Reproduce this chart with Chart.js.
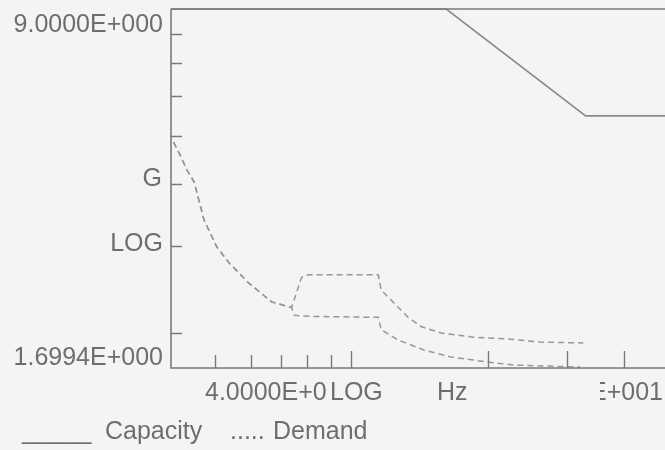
<!DOCTYPE html>
<html>
<head>
<meta charset="utf-8">
<title>Capacity / Demand</title>
<script src="https://cdn.jsdelivr.net/npm/chart.js@4.4.0/dist/chart.umd.min.js"></script>
<style>
	html,
	body {
		margin: 0;
		padding: 0;
		background: #f4f4f2;
		overflow: hidden;
	}
	#spectrumChart {
		display: block;
	}
</style>
</head>
<body>
<canvas id="spectrumChart" width="668" height="450"></canvas>
<script>
// axis ranges (log-log)
const X_MIN = 4;
const X_MAX = 50;
const Y_MIN = 1.6994;
const Y_MAX = 9;

// tick marks drawn inside the frame
const X_TICKS = [5, 6, 7, 8, 9, 10, 20, 30, 40];
const X_TICKS_LONG = [10, 20, 30, 40];
const Y_TICKS = [2, 3, 4, 5, 6, 7, 8];

// capacity envelope
const CAPACITY_HZ = [4, 16.2, 32.9, 50];
const CAPACITY_G = [9, 9, 5.48, 5.48];

// demand, upper curve
const DEMAND_A_HZ = [4.05, 4.17, 4.34, 4.5, 4.73, 5.05, 5.37, 5.94, 6.67, 7.38, 7.77, 8.05, 11.47, 11.64, 12.24, 13.35, 14.25, 15.77, 18.64, 22.13, 26.16, 32.5];
const DEMAND_A_G = [4.85, 4.61, 4.26, 4.03, 3.38, 2.98, 2.77, 2.52, 2.31, 2.25, 2.59, 2.62, 2.62, 2.44, 2.33, 2.15, 2.06, 2.0, 1.96, 1.945, 1.917, 1.909];

// demand, lower curve
const DEMAND_B_HZ = [4.05, 4.17, 4.34, 4.5, 4.73, 5.05, 5.37, 5.94, 6.67, 7.38, 7.49, 8.05, 11.47, 11.64, 12.69, 14.47, 16.59, 20.0, 22.8, 26.8, 32.0];
const DEMAND_B_G = [4.85, 4.61, 4.26, 4.03, 3.38, 2.98, 2.77, 2.52, 2.31, 2.25, 2.17, 2.16, 2.15, 2.03, 1.935, 1.848, 1.789, 1.747, 1.723, 1.715, 1.707];

const CHART_SPECTRUM = document.querySelector('#spectrumChart');
const TEXT_COLOR = '#6e6e6e';
const LINE_COLOR = '#8a8a8a';
const DASH_COLOR = '#979797';
const AXIS_COLOR = '#7a7a7a';
const BG_COLOR = '#f4f4f2';
const FONT = '"Liberation Sans", Arial, sans-serif';

function toPoints(xs, ys) {
	return xs.map((x, i) => ({ x: x, y: ys[i] }));
}

// 9 -> "9.0000E+000"
function formatSci(value) {
	const parts = value.toExponential(4).toUpperCase().split('E');
	const exp = parseInt(parts[1], 10);
	const sign = exp < 0 ? '-' : '+';
	return parts[0] + 'E' + sign + String(Math.abs(exp)).padStart(3, '0');
}

const framePlugin = {
	id: 'framePlugin',
	afterDatasetsDraw(chart) {
		const ctx = chart.ctx;
		const area = chart.chartArea;
		const xScale = chart.scales.x;
		const yScale = chart.scales.y;

		ctx.save();
		ctx.strokeStyle = AXIS_COLOR;
		ctx.lineWidth = 1.6;
		ctx.beginPath();
		ctx.moveTo(area.left, area.top);
		ctx.lineTo(area.right, area.top);
		ctx.moveTo(area.left, area.top);
		ctx.lineTo(area.left, area.bottom);
		ctx.lineTo(area.right, area.bottom);
		ctx.stroke();

		ctx.lineWidth = 1.4;
		ctx.beginPath();
		Y_TICKS.forEach(v => {
			const y = Math.round(yScale.getPixelForValue(v)) + 0.5;
			ctx.moveTo(area.left, y);
			ctx.lineTo(area.left + 11, y);
		});
		X_TICKS.forEach(v => {
			const x = Math.round(xScale.getPixelForValue(v)) + 0.5;
			const len = X_TICKS_LONG.includes(v) ? 17 : 13;
			ctx.moveTo(x, area.bottom);
			ctx.lineTo(x, area.bottom - len);
		});
		ctx.stroke();

		// y axis labels
		ctx.fillStyle = TEXT_COLOR;
		ctx.font = '25px ' + FONT;
		ctx.textBaseline = 'alphabetic';
		ctx.textAlign = 'right';
		ctx.fillText(formatSci(Y_MAX), area.left - 8, area.top + 23);
		ctx.fillText('G', area.left - 9, yScale.getPixelForValue(4) + 2);
		ctx.fillText('LOG', area.left - 8, yScale.getPixelForValue(3) + 5);
		ctx.fillText(formatSci(Y_MIN), area.left - 8, area.bottom - 3);

		// x axis labels; the "LOG Hz" title is printed over the end of the min label
		const baseX = area.bottom + 32;
		ctx.textAlign = 'left';
		ctx.fillText(formatSci(X_MIN), 205, baseX);
		const logWidth = ctx.measureText('LOG').width;
		ctx.fillStyle = BG_COLOR;
		ctx.fillRect(327, baseX - 22, logWidth + 5, 26);
		ctx.fillStyle = TEXT_COLOR;
		ctx.fillText('LOG', 330, baseX);
		ctx.fillText('Hz', 437, baseX);

		ctx.save();
		ctx.beginPath();
		ctx.rect(600, baseX - 26, 80, 32);
		ctx.clip();
		ctx.textAlign = 'right';
		ctx.fillText(formatSci(X_MAX), 663, baseX);
		ctx.restore();

		// legend
		ctx.font = '25px ' + FONT;
		ctx.textAlign = 'left';
		ctx.fillText('_____', 22, 439);
		ctx.fillText('Capacity', 105, 439);
		ctx.fillText('.....', 230, 439);
		ctx.fillText('Demand', 273, 439);
		ctx.restore();
	},
};

function initializeChart(chartElement) {
	const ctx = chartElement.getContext('2d');
	return new Chart(ctx, {
		type: 'line',
		data: {
			datasets: [
				{
					label: 'Capacity',
					data: toPoints(CAPACITY_HZ, CAPACITY_G),
					borderColor: LINE_COLOR,
					borderWidth: 1.6,
					pointRadius: 0,
					clip: 3,
				},
				{
					label: 'Demand',
					data: toPoints(DEMAND_A_HZ, DEMAND_A_G),
					borderColor: DASH_COLOR,
					borderWidth: 1.5,
					borderDash: [6, 4],
					pointRadius: 0,
					clip: 3,
				},
				{
					label: 'Demand',
					data: toPoints(DEMAND_B_HZ, DEMAND_B_G),
					borderColor: DASH_COLOR,
					borderWidth: 1.5,
					borderDash: [6, 4],
					pointRadius: 0,
					clip: 3,
				},
			],
		},
		options: {
			responsive: false,
			animation: false,
			layout: {
				padding: { left: 171, top: 9, right: 0, bottom: 82 },
			},
			scales: {
				x: { type: 'logarithmic', min: X_MIN, max: X_MAX, display: false },
				y: { type: 'logarithmic', min: Y_MIN, max: Y_MAX, display: false },
			},
			plugins: {
				legend: { display: false },
				tooltip: { enabled: false },
			},
		},
		plugins: [framePlugin],
	});
}

const spectrumChart = initializeChart(CHART_SPECTRUM);
</script>
</body>
</html>
